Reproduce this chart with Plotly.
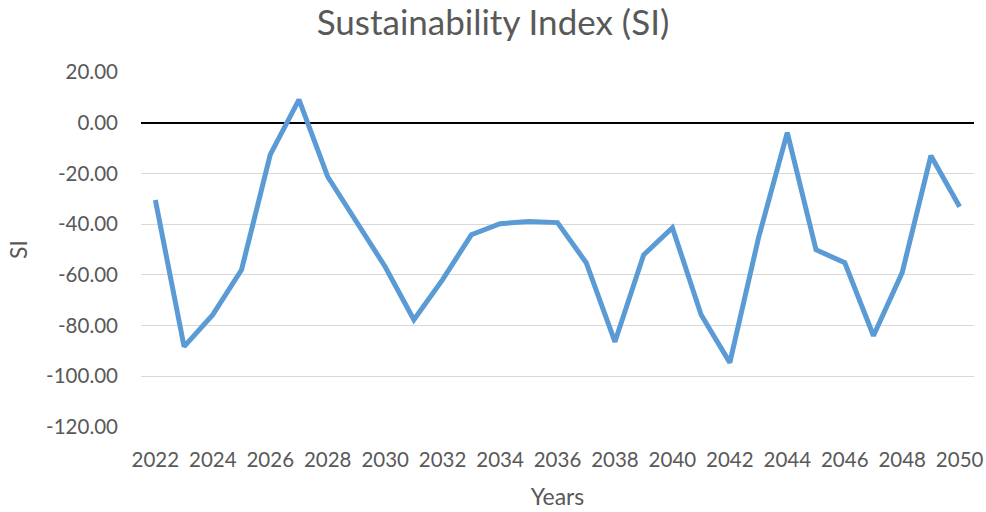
import plotly.graph_objects as go

years = list(range(2022, 2051))
si_values = [-30.5, -88.3, -75.7, -58.0, -12.6, 9.1, -21.3, -39.0, -56.8, -77.7,
             -61.9, -44.2, -39.8, -39.0, -39.4, -55.2, -86.4, -52.1, -41.4, -75.7,
             -94.6, -45.3, -3.9, -50.1, -55.2, -84.0, -59.1, -13.0, -33.1]
y_tick_vals = [20, 0, -20, -40, -60, -80, -100, -120]
y_tick_text = ["20.00", "0.00", "-20.00", "-40.00", "-60.00", "-80.00", "-100.00", "-120.00"]
x_tick_vals = list(range(2022, 2051, 2))

FONT = "Lato"
GREY = "#595959"

fig = go.Figure()
fig.add_trace(go.Scatter(x=years, y=si_values, mode="lines",
                         line=dict(color="#5b9bd5", width=5), showlegend=False))

fig.update_layout(
    width=986, height=512,
    margin=dict(l=141, r=12, t=72, b=85),
    paper_bgcolor="white", plot_bgcolor="white",
    font=dict(family=FONT, color=GREY, size=20.5),
    title=dict(text="Sustainability Index (SI)", x=0.5, xanchor="center",
               y=0.955, yanchor="middle", font=dict(size=35, color=GREY, family=FONT)),
    xaxis=dict(range=[2021.5, 2050.5], tickvals=x_tick_vals, automargin=False,
               showgrid=False, zeroline=False, showline=False, ticks="",
               ticklabelstandoff=18,
               title=dict(text="Years", font=dict(size=23, color=GREY), standoff=19)),
    yaxis=dict(range=[-120, 20], tickvals=y_tick_vals, ticktext=y_tick_text,
               automargin=False,
               showgrid=True, gridcolor="#d9d9d9", gridwidth=1,
               zeroline=True, zerolinecolor="black", zerolinewidth=2,
               showline=False, ticks="", ticklabelstandoff=22,
               title=dict(text="SI", font=dict(size=23, color=GREY), standoff=12)),
)

fig.write_html("out.html", config={"displayModeBar": False},
               post_script="document.body.style.margin='0px';")
